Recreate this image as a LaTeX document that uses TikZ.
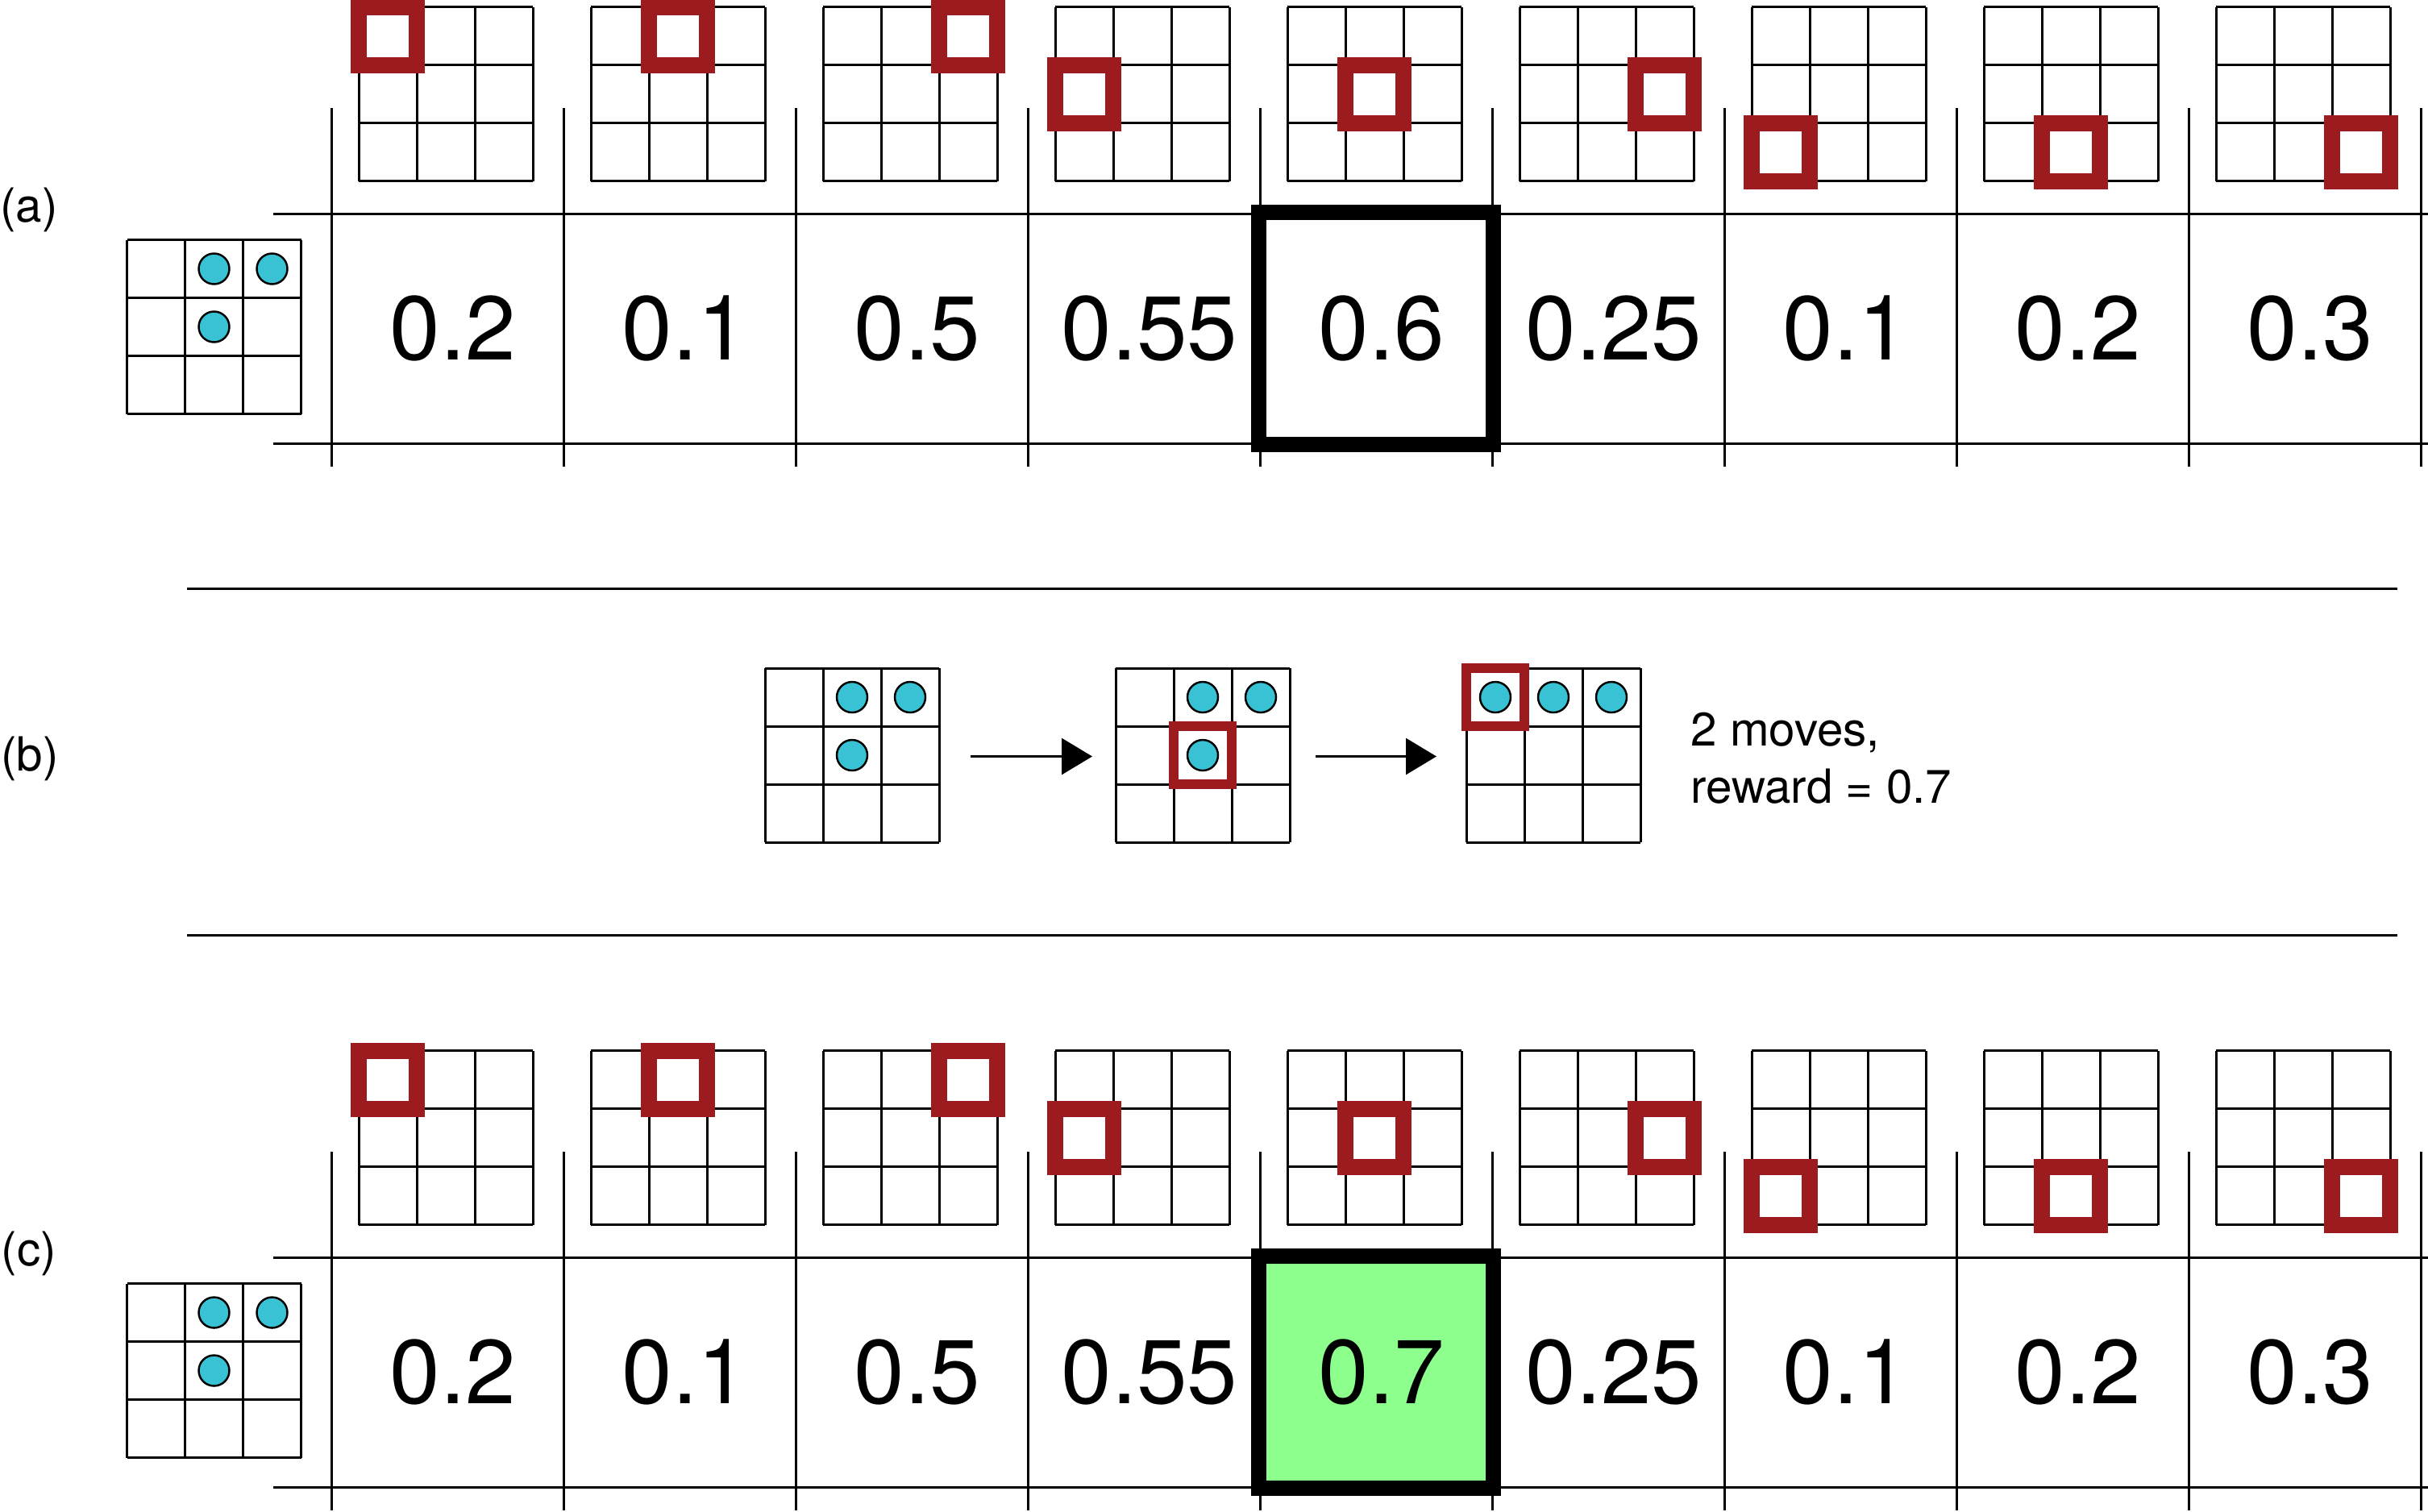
\documentclass[tikz,border=0pt]{standalone}
\usepackage{fontspec}
\setmainfont{TeX Gyre Heros}
\usepackage{tikz}
\usetikzlibrary{positioning,arrows.meta,calc,backgrounds}

\definecolor{pickred}{RGB}{155,27,30}
\definecolor{stonecyan}{RGB}{56,194,212}
\definecolor{bestgreen}{RGB}{140,255,140}

\begin{document}
\begin{tikzpicture}[>={Triangle[length=3.8mm,width=4.5mm]}, line width=0.85pt,
  board/.pic={\foreach \i in {0,...,3} {\draw (0.72*\i,0) -- (0.72*\i,-2.16); \draw (0,-0.72*\i) -- (2.16,-0.72*\i);}},
  boardbox/.style={rectangle, minimum size=2.16cm, inner sep=0pt},
  stonedot/.style={draw, fill=stonecyan, line width=0.7pt},
  pickbox/.style={draw=pickred, line width=2mm},
  pickthin/.style={draw=pickred, line width=1.2mm},
  valuecell/.style={rectangle, minimum width=2.88cm, minimum height=2.85cm, inner sep=0pt, font=\fontsize{32}{38}\selectfont},
  bestbox/.style={draw=black, line width=1.95mm},
  panellabel/.style={font=\fontsize{16.6}{20}\selectfont}]
\useasboundingbox (0,0) rectangle (30.12,-18.75);

% (a) and (c): one value per first move
\foreach \p/\yo/\midval in {a/0/0.6, c/-12.95/0.7} {
  \begin{scope}[yshift=\yo cm]
    \node[panellabel] (lab\p) at (0.36,-2.60) {(\p)};
    \node[boardbox] (s\p) at (2.67,-4.07) {};
    \pic at (s\p.north west) {board};
    \foreach \cx/\ry in {1/0,2/0,1/1}
      \draw[stonedot] ($(s\p.north west)+(0.36+0.72*\cx,-0.36-0.72*\ry)$) circle (0.19);
    \draw (3.39,-2.65) -- (30.12,-2.65);
    \draw (3.39,-5.50) -- (30.12,-5.50);
    \foreach \k in {0,...,9}
      \draw (4.11+2.88*\k,-1.34) -- ++(0,-4.45);
    \foreach \v [count=\k from 0] in {0.2,0.1,0.5,0.55,\midval,0.25,0.1,0.2,0.3} {
      \node[valuecell] (v\p\k) at (5.55+2.88*\k,-4.075) {\hspace{0.14cm}\v};
      \node[boardbox] (g\p\k) at (5.545+2.88*\k,-1.18) {};
      \pic at (g\p\k.north west) {board};
      \pgfmathtruncatemacro{\ry}{\k/3}
      \pgfmathtruncatemacro{\cx}{\k-3*\ry}
      \draw[pickbox] ($(g\p\k.north west)+(0.72*\cx,-0.72*\ry)$) rectangle ++(0.72,-0.72);
    }
  \end{scope}
}
\begin{scope}[on background layer]
  \fill[bestgreen] (vc4.north west) rectangle (vc4.south east);
\end{scope}
\draw[bestbox] (va4.north west) rectangle (va4.south east);
\draw[bestbox] (vc4.north west) rectangle (vc4.south east);

% (b): the two moves played out
\node[panellabel] (labb) at (0.37,-9.41) {(b)};
\draw (2.32,-7.30) -- (29.74,-7.30);
\draw (2.32,-11.60) -- (29.74,-11.60);
\node[boardbox] (b1) at (10.585,-9.385) {};
\node[boardbox, right=2.16cm of b1] (b2) {};
\node[boardbox, right=2.16cm of b2] (b3) {};
\pic at (b1.north west) {board};
\pic at (b2.north west) {board};
\pic at (b3.north west) {board};
\foreach \n/\cx/\ry in {b1/1/0,b1/2/0,b1/1/1,b2/1/0,b2/2/0,b2/1/1,b3/0/0,b3/1/0,b3/2/0}
  \draw[stonedot] ($(\n.north west)+(0.36+0.72*\cx,-0.36-0.72*\ry)$) circle (0.19);
\draw[pickthin] ($(b2.north west)+(0.72,-0.72)$) rectangle ++(0.72,-0.72);
\draw[pickthin] (b3.north west) rectangle ++(0.72,-0.72);
\draw[->, shorten <=0.36cm, shorten >=0.29cm] (b1) -- (b2);
\draw[->, shorten <=0.29cm, shorten >=0.37cm] (b2) -- (b3);
\node[panellabel, anchor=base west, inner sep=0pt] (t1) at (20.96,-9.25) {2 moves,};
\node[panellabel, anchor=base west, inner sep=0pt] (t2) at (20.96,-9.96) {reward = 0.7};
\end{tikzpicture}
\end{document}
